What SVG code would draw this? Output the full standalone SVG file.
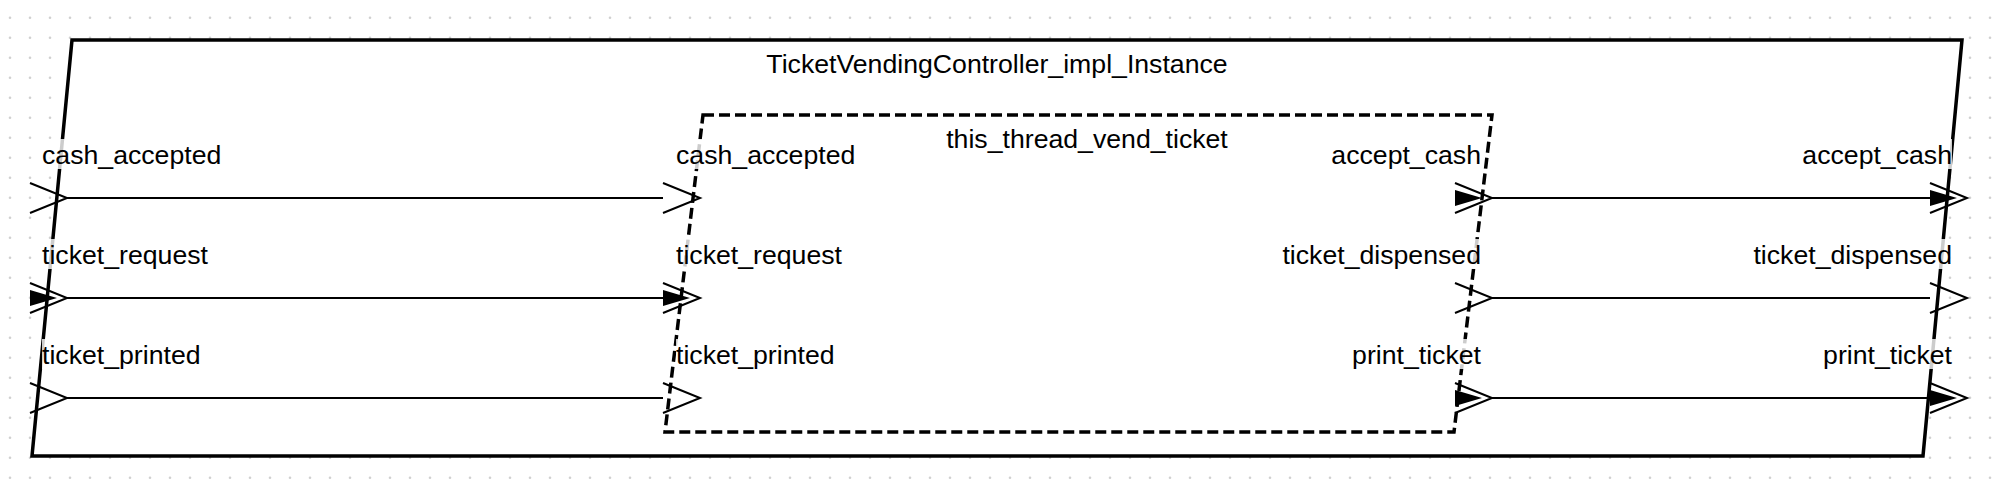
<svg xmlns="http://www.w3.org/2000/svg" xmlns:xlink="http://www.w3.org/1999/xlink" width="1998" height="484" viewBox="0 0 1998 484">
  <style>
    .lbl { font-family: "Liberation Sans", Arial, sans-serif; font-size: 26.67px; fill: #000; }
    .bg { fill: #fff; fill-opacity: 0.8; }
    .outer { fill: #fff; stroke: #000; stroke-width: 3.5; stroke-linejoin: miter; }
    .inner { fill: #fff; stroke: #000; stroke-width: 3.5; stroke-dasharray: 11 5; }
    .conn { stroke: #000; stroke-width: 2; fill: none; }
    .chev { fill: none; stroke: #000; stroke-width: 2; }
    .tri { fill: #000; stroke: none; }
  </style>
  <defs>
    <pattern id="dots" patternUnits="userSpaceOnUse" x="0" y="0" width="20" height="20">
      <circle cx="10" cy="17.7" r="1.3" fill="#d0d0d0"/>
    </pattern>
    <path id="chevron" class="chev" d="M-37,-15 L0,0 L-37,15"/>
    <path id="filled" class="tri" d="M-37,-8 L-10,0 L-37,8 Z"/>
  </defs>

  <rect x="0" y="0" width="1998" height="484" fill="#fff"/>
  <rect x="0" y="0" width="1998" height="484" fill="url(#dots)"/>

  <g id="TicketVendingController_impl_Instance">
    <path class="outer" d="M72,40 L1962,40 L1923,456 L32,456 Z"/>
    <text class="lbl" x="997" y="73" text-anchor="middle">TicketVendingController_impl_Instance</text>
  </g>

  <g id="this_thread_vend_ticket">
    <path class="inner" d="M703,115 L1492,115 L1454,432 L665,432 Z"/>
    <text class="lbl" x="1087" y="148" text-anchor="middle">this_thread_vend_ticket</text>
  </g>

  <g id="connectors">
    <line class="conn" x1="67" y1="198" x2="663" y2="198"/>
    <line class="conn" x1="67" y1="298" x2="663" y2="298"/>
    <line class="conn" x1="67" y1="398" x2="663" y2="398"/>
    <line class="conn" x1="1492" y1="198" x2="1930" y2="198"/>
    <line class="conn" x1="1492" y1="298" x2="1930" y2="298"/>
    <line class="conn" x1="1492" y1="398" x2="1930" y2="398"/>
  </g>

  <g id="outer_in_cash_accepted">
    <use xlink:href="#chevron" x="67" y="198"/>
    <rect class="bg" x="42" y="139" width="180" height="30"/>
    <text class="lbl" x="42" y="164">cash_accepted</text>
  </g>
  <g id="outer_in_ticket_request">
    <use xlink:href="#filled" x="67" y="298"/>
    <use xlink:href="#chevron" x="67" y="298"/>
    <rect class="bg" x="42" y="239" width="166" height="30"/>
    <text class="lbl" x="42" y="264">ticket_request</text>
  </g>
  <g id="outer_in_ticket_printed">
    <use xlink:href="#chevron" x="67" y="398"/>
    <rect class="bg" x="42" y="339" width="159" height="30"/>
    <text class="lbl" x="42" y="364">ticket_printed</text>
  </g>

  <g id="inner_in_cash_accepted">
    <use xlink:href="#chevron" x="700" y="198"/>
    <rect class="bg" x="676" y="139" width="180" height="30"/>
    <text class="lbl" x="676" y="164">cash_accepted</text>
  </g>
  <g id="inner_in_ticket_request">
    <use xlink:href="#filled" x="700" y="298"/>
    <use xlink:href="#chevron" x="700" y="298"/>
    <rect class="bg" x="676" y="239" width="166" height="30"/>
    <text class="lbl" x="676" y="264">ticket_request</text>
  </g>
  <g id="inner_in_ticket_printed">
    <use xlink:href="#chevron" x="700" y="398"/>
    <rect class="bg" x="676" y="339" width="159" height="30"/>
    <text class="lbl" x="676" y="364">ticket_printed</text>
  </g>

  <g id="inner_out_accept_cash">
    <use xlink:href="#filled" x="1492" y="198"/>
    <use xlink:href="#chevron" x="1492" y="198"/>
    <rect class="bg" x="1331" y="139" width="150" height="30"/>
    <text class="lbl" x="1481" y="164" text-anchor="end">accept_cash</text>
  </g>
  <g id="inner_out_ticket_dispensed">
    <use xlink:href="#chevron" x="1492" y="298"/>
    <rect class="bg" x="1282" y="239" width="199" height="30"/>
    <text class="lbl" x="1481" y="264" text-anchor="end">ticket_dispensed</text>
  </g>
  <g id="inner_out_print_ticket">
    <use xlink:href="#filled" x="1492" y="398"/>
    <use xlink:href="#chevron" x="1492" y="398"/>
    <rect class="bg" x="1352" y="339" width="129" height="30"/>
    <text class="lbl" x="1481" y="364" text-anchor="end">print_ticket</text>
  </g>

  <g id="outer_out_accept_cash">
    <use xlink:href="#filled" x="1967" y="198"/>
    <use xlink:href="#chevron" x="1967" y="198"/>
    <rect class="bg" x="1802" y="139" width="150" height="30"/>
    <text class="lbl" x="1952" y="164" text-anchor="end">accept_cash</text>
  </g>
  <g id="outer_out_ticket_dispensed">
    <use xlink:href="#chevron" x="1967" y="298"/>
    <rect class="bg" x="1753" y="239" width="199" height="30"/>
    <text class="lbl" x="1952" y="264" text-anchor="end">ticket_dispensed</text>
  </g>
  <g id="outer_out_print_ticket">
    <use xlink:href="#filled" x="1967" y="398"/>
    <use xlink:href="#chevron" x="1967" y="398"/>
    <rect class="bg" x="1823" y="339" width="129" height="30"/>
    <text class="lbl" x="1952" y="364" text-anchor="end">print_ticket</text>
  </g>
</svg>
